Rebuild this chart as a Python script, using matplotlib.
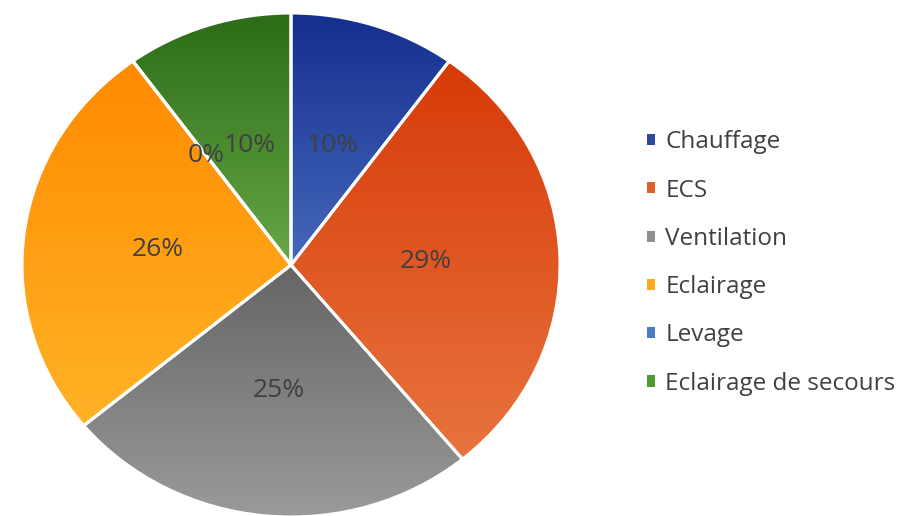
import numpy as np
import matplotlib
matplotlib.use("Agg")
import matplotlib.pyplot as plt
from matplotlib.colors import LinearSegmentedColormap
from matplotlib.patches import Patch

categories = ["Chauffage", "ECS", "Ventilation", "Eclairage", "Levage", "Eclairage de secours"]
values = [10, 29, 25, 26, 0, 10]
# gradient colours per slice: (top, bottom)
grad_colors = [("#142f8e", "#4668bb"), ("#d73a08", "#e8743d"), ("#656565", "#9b9b9b"),
               ("#ff8a00", "#ffb325"), ("#3f6fc2", "#5b8bd6"), ("#2c6c17", "#67a747")]
legend_colors = ["#2e4a9e", "#e0602e", "#8e8e8e", "#ffaa1e", "#4a7cc8", "#4e9a30"]

plt.rcParams['font.family'] = ['Open Sans', 'DejaVu Sans']

fig = plt.figure(figsize=(9, 5.16), dpi=100)
ax = fig.add_axes([22 / 900, -1 / 516, 538 / 900, 504 / 516])

wedges, texts, autotexts = ax.pie(values, startangle=90, counterclock=False,
                                  autopct='%1.0f%%', pctdistance=0.5, radius=1,
                                  wedgeprops=dict(linewidth=0),
                                  textprops=dict(color="#404040", fontsize=19))

for w, (top, bot) in zip(wedges, grad_colors):
    verts = w.get_patch_transform().transform(w.get_path().vertices)
    x0, x1 = verts[:, 0].min(), verts[:, 0].max()
    y0, y1 = verts[:, 1].min(), verts[:, 1].max()
    if x1 - x0 < 1e-6:
        x1 = x0 + 1e-3
    if y1 - y0 < 1e-6:
        y1 = y0 + 1e-3
    cmap = LinearSegmentedColormap.from_list("g", [bot, top])
    grad = np.linspace(0, 1, 256).reshape(-1, 1)
    im = ax.imshow(grad, cmap=cmap, extent=[x0, x1, y0, y1], origin='lower',
                   aspect='auto', interpolation='bilinear', zorder=1)
    im.set_clip_path(w)
    w.set_facecolor('none')
    w.set_edgecolor('white')
    w.set_linewidth(2.2)
    w.set_zorder(2)

for t in autotexts:
    t.set_zorder(3)
# small nudge of the 0% label, as in the reference
autotexts[4].set_position((autotexts[4].get_position()[0] - 0.02, autotexts[4].get_position()[1] + 0.03))

ax.set_xlim(-1, 1)
ax.set_ylim(-1, 1)
ax.set_aspect('auto')
ax.axis('off')

handles = [Patch(facecolor=c, edgecolor='none') for c in legend_colors]
fig.legend(handles, categories, loc='center left', bbox_to_anchor=(647 / 900, 1 - 263 / 516),
           frameon=False, fontsize=17.5, handlelength=0.33, handleheight=0.33,
           handletextpad=0.42, labelspacing=1.0, labelcolor="#404040",
           borderpad=0, borderaxespad=0)

fig.savefig("out.png", dpi=100)
